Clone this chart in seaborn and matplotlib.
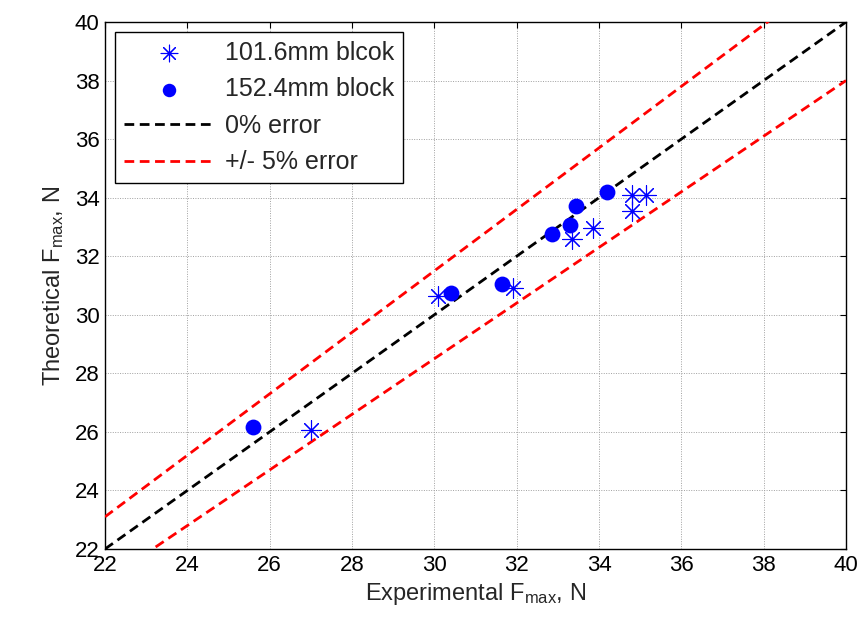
import matplotlib
matplotlib.use("Agg")
import matplotlib.pyplot as plt
import seaborn as sns
import numpy as np
import pandas as pd

# 101.6 mm block (asterisks)
exp_101 = [27.0, 30.1, 31.9, 33.35, 33.85, 34.8, 35.15, 34.8]
theo_101 = [26.05, 30.65, 30.9, 32.6, 32.95, 34.1, 34.1, 33.55]
# 152.4 mm block (circles)
exp_152 = [25.6, 30.4, 31.65, 32.85, 33.3, 33.45, 34.2]
theo_152 = [26.15, 30.75, 31.05, 32.75, 33.05, 33.7, 34.2]

line_x = [22, 40]
error_ratio = [1.0, 1.05, 0.95]
xticks = list(range(22, 41, 2))
yticks = list(range(22, 41, 2))

sns.set_style("white")
plt.rcParams['font.family'] = ['Liberation Sans', 'DejaVu Sans']
plt.rcParams['mathtext.fontset'] = 'custom'
plt.rcParams['mathtext.rm'] = 'Liberation Sans'
plt.rcParams['mathtext.it'] = 'Liberation Sans'

fig = plt.figure(figsize=(8.64, 6.25), dpi=100)
ax = fig.add_axes([105/864, 76/625, 741/864, 527/625])

df101 = pd.DataFrame({"x": exp_101, "y": theo_101})
df152 = pd.DataFrame({"x": exp_152, "y": theo_152})

sns.scatterplot(data=df101, x="x", y="y", ax=ax, marker=(8, 2, 0), s=200,
                color="#0000ff", linewidth=0.8, edgecolor="#0000ff",
                label="101.6mm blcok", zorder=4)
sns.scatterplot(data=df152, x="x", y="y", ax=ax, marker="o", s=130,
                color="#0000ff", edgecolor="#0000ff", linewidth=0,
                label="152.4mm block", zorder=4)

lx = np.array(line_x, dtype=float)
sns.lineplot(x=lx, y=lx * error_ratio[0], ax=ax, color="black", lw=2,
             linestyle=(0, (3.5, 2)), label="0% error", zorder=3)
sns.lineplot(x=lx, y=lx * error_ratio[1], ax=ax, color="#ff0000", lw=2,
             linestyle=(0, (3.5, 2)), label="+/- 5% error", zorder=3)
sns.lineplot(x=lx, y=lx * error_ratio[2], ax=ax, color="#ff0000", lw=2,
             linestyle=(0, (3.5, 2)), zorder=3)

ax.set_xlim(22, 40)
ax.set_ylim(22, 40)
ax.set_xticks(xticks)
ax.set_yticks(yticks)
ax.tick_params(direction="in", length=4, labelsize=16, top=True, right=True,
               width=0.8, colors="black", pad=4)
ax.grid(True, linestyle=(0, (1, 1.5)), color="#a0a0a0", linewidth=0.7)
for s in ax.spines.values():
    s.set_color("black")
    s.set_linewidth(1.0)

ax.set_xlabel(r"Experimental F$_{\mathrm{max}}$, N", fontsize=17, labelpad=4)
ax.set_ylabel(r"Theoretical F$_{\mathrm{max}}$, N", fontsize=17, labelpad=6)

leg = ax.legend(loc="upper left", fontsize=18, frameon=True, fancybox=False,
                edgecolor="black", framealpha=1, borderpad=0.35,
                labelspacing=0.5, handlelength=3.6, handletextpad=0.45,
                bbox_to_anchor=(0.0, 1.0), borderaxespad=0.4,
                markerscale=0.85)
leg.get_frame().set_linewidth(1.0)

fig.savefig("out.png", dpi=100)
